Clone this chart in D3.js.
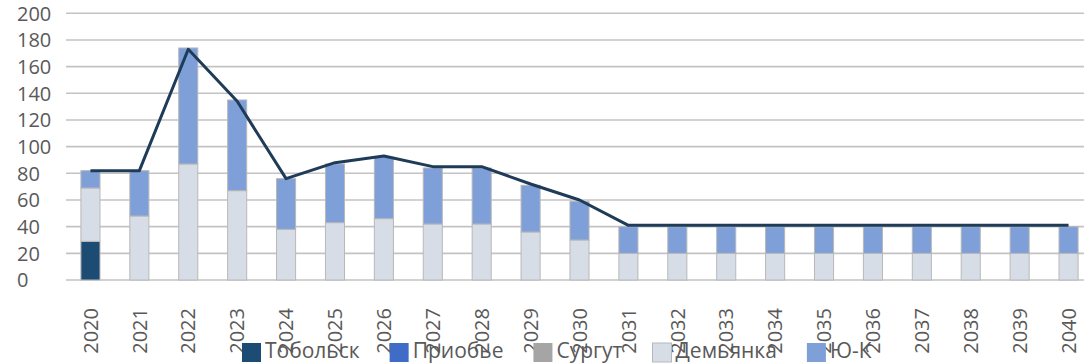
<!DOCTYPE html>
<html><head><meta charset="utf-8">
<script src="https://cdn.jsdelivr.net/npm/d3@7"></script>
<style>body{margin:0;background:#fff;} svg{display:block;font-family:"Open Sans",sans-serif;}</style>
</head><body><svg id="c" width="1084" height="363"></svg>
<script>
const years = ["2020","2021","2022","2023","2024","2025","2026","2027","2028","2029","2030","2031","2032","2033","2034","2035","2036","2037","2038","2039","2040"];
const tobolsk  = [29,0,0,0,0,0,0,0,0,0,0,0,0,0,0,0,0,0,0,0,0];
const priobye  = [0,0,0,0,0,0,0,0,0,0,0,0,0,0,0,0,0,0,0,0,0];
const surgut   = [0,0,0,0,0,0,0,0,0,0,0,0,0,0,0,0,0,0,0,0,0];
const demyanka = [40,48,87,67,38,43,46,42,42,36,30,20,20,20,20,20,20,20,20,20,20];
const yuk      = [13,34,87,68,38,44,46,42,42,35,29,20,20,20,20,20,20,20,20,20,20];
const total    = [82,82,173,134,76,88,93,85,85,72,60,41,41,41,41,41,41,41,41,41,41];
const yTicks   = [0,20,40,60,80,100,120,140,160,180,200];
const seriesNames = ["Тобольск","Приобье","Сургут","Демьянка","Ю-К"];

const colors = ["#1c4b74","#3f6cc6","#a5a5a5","#d7dde6","#7f9fd9"];
const seriesData = [tobolsk, priobye, surgut, demyanka, yuk];

const svg = d3.select("#c");
const x = d3.scaleBand().domain(years).range([66, 1093]).paddingInner(0.61).paddingOuter(0.305);
const y = d3.scaleLinear().domain([0,200]).range([280, 13.3]);

// gridlines
svg.append("g").selectAll("line").data(yTicks).join("line")
  .attr("x1",66).attr("x2",1084).attr("y1",d=>y(d)).attr("y2",d=>y(d))
  .attr("stroke","#c3c3c3").attr("stroke-width",1.6);

// y labels
svg.append("g").selectAll("text").data(yTicks).join("text")
  .attr("x",17).attr("y",d=>y(d)).attr("dy","0.36em")
  .attr("font-size",20).attr("fill","#595959").text(d=>d);

// stacked bars
const rows = years.map((yr,i)=>{const o={year:yr}; seriesNames.forEach((n,k)=>o[n]=seriesData[k][i]); return o;});
const stack = d3.stack().keys(seriesNames)(rows);
stack.forEach((layer,k)=>{
  svg.append("g").selectAll("rect").data(layer.filter(d=>d[1]-d[0]>0)).join("rect")
    .attr("x",d=>x(d.data.year)).attr("width",x.bandwidth())
    .attr("y",d=>y(d[1])).attr("height",d=>y(d[0])-y(d[1]))
    .attr("fill",colors[k]).attr("stroke","#b8b8b8").attr("stroke-width",1);
});

// line
const line = d3.line().x((d,i)=>x(years[i])+x.bandwidth()/2).y(d=>y(d));
svg.append("path").datum(total).attr("d",line).attr("fill","none")
  .attr("stroke","#1e3b58").attr("stroke-width",3).attr("stroke-linejoin","round");

// x labels
svg.append("g").selectAll("text").data(years).join("text")
  .attr("transform",d=>`translate(${x(d)+x.bandwidth()/2},308) rotate(-90)`)
  .attr("text-anchor","end").attr("dy","0.36em")
  .attr("font-size",20).attr("fill","#595959").text(d=>d);

// legend
const lg = svg.append("g");
let lx = 242;
seriesNames.forEach((n,k)=>{
  lg.append("rect").attr("x",lx).attr("y",343).attr("width",19).attr("height",19)
    .attr("fill",colors[k]).attr("stroke", k===3?"#b8b8b8":"none");
  const t = lg.append("text").attr("x",lx+23).attr("y",358).attr("font-size",21)
    .attr("fill","#595959").text(n);
  lx = lx + 23 + t.node().getComputedTextLength() + 30;
});
</script></body></html>
